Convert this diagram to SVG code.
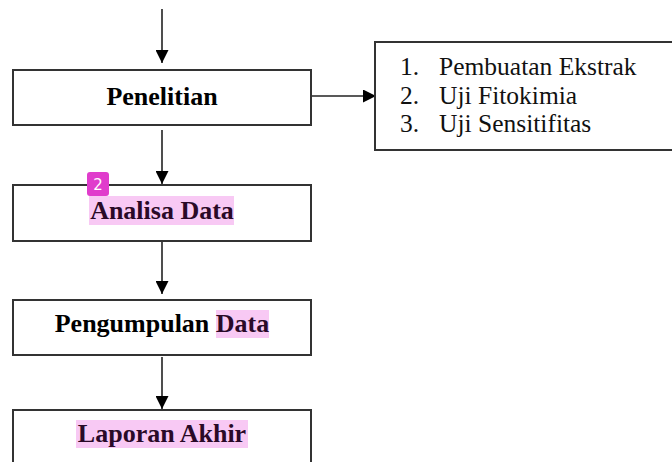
<svg xmlns="http://www.w3.org/2000/svg" width="672" height="462" viewBox="0 0 672 462">
<style>
.box{fill:#fff;stroke:#333;stroke-width:2}
.lbl{font-family:"Liberation Serif","Times New Roman",serif;font-weight:bold;font-size:26px;fill:#000;text-anchor:middle}
.hl{fill:#f8c9f4}
.hlt{fill:#2a0a28}
.item{font-family:"Liberation Serif","Times New Roman",serif;font-size:25.5px;fill:#111}
.edge{stroke:#222;stroke-width:1.6;fill:none}
</style>
<defs>
<marker id="ah" markerWidth="13" markerHeight="13" refX="13" refY="6.5" orient="auto" markerUnits="userSpaceOnUse">
<path d="M0,0 L13,6.5 L0,13 Z" fill="#000"/>
</marker>
</defs>
<g id="connectors">
<line class="edge" x1="162" y1="9" x2="162" y2="63" marker-end="url(#ah)"/>
<line class="edge" x1="311" y1="96" x2="376" y2="96" marker-end="url(#ah)"/>
<line class="edge" x1="162" y1="130" x2="162" y2="184" marker-end="url(#ah)"/>
<line class="edge" x1="162" y1="242" x2="162" y2="294" marker-end="url(#ah)"/>
<line class="edge" x1="162" y1="357" x2="162" y2="409" marker-end="url(#ah)"/>
</g>
<g id="penelitian">
<rect class="box" x="13" y="70" width="298" height="55"/>
<text class="lbl" x="162" y="105">Penelitian</text>
</g>
<g id="list">
<rect class="box" x="375" y="42" width="310" height="108"/>
<text class="item" x="400" y="75">1.</text><text class="item" x="439" y="75">Pembuatan Ekstrak</text>
<text class="item" x="400" y="104">2.</text><text class="item" x="439" y="104">Uji Fitokimia</text>
<text class="item" x="400" y="132">3.</text><text class="item" x="439" y="132">Uji Sensitifitas</text>
</g>
<g id="analisa">
<rect class="box" x="13" y="185" width="298" height="56"/>
<rect class="hl" x="89" y="196" width="145" height="29"/>
<text class="lbl hlt" x="162" y="219">Analisa Data</text>
<rect x="87" y="172" width="22" height="24" rx="3" fill="#e03ccc"/>
<text x="98" y="190" font-family="'DejaVu Sans',sans-serif" font-size="15" fill="#fff" text-anchor="middle">2</text>
</g>
<g id="pengumpulan">
<rect class="box" x="13" y="300" width="298" height="55"/>
<rect class="hl" x="216" y="310" width="53" height="28"/>
<text class="lbl" x="162" y="332">Pengumpulan <tspan class="hlt">Data</tspan></text>
</g>
<g id="laporan">
<rect class="box" x="13" y="410" width="298" height="60"/>
<rect class="hl" x="76" y="420" width="172" height="28"/>
<text class="lbl hlt" x="162" y="442">Laporan Akhir</text>
</g>
</svg>
